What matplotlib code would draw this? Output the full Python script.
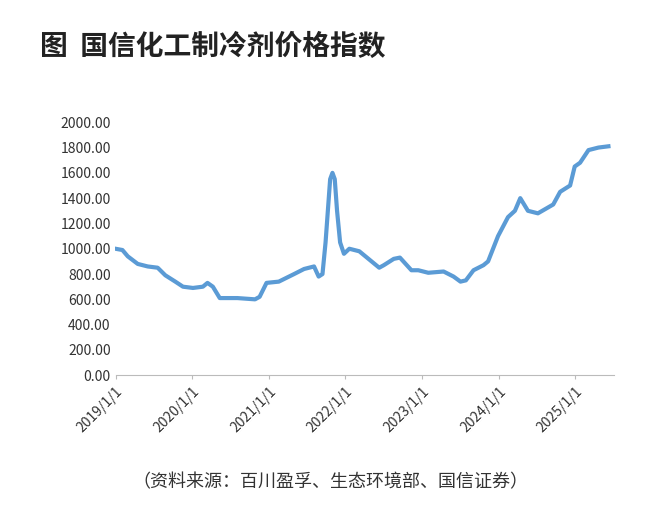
import matplotlib
matplotlib.use("Agg")
import matplotlib.pyplot as plt

plt.rcParams['font.family'] = ['Noto Sans CJK SC', 'DejaVu Sans']

years = [2019.00,2019.09,2019.16,2019.29,2019.42,2019.55,2019.65,2019.78,2019.88,2020.01,2020.14,2020.20,2020.27,2020.36,2020.59,2020.82,2020.88,2020.97,2021.13,2021.33,2021.46,2021.59,2021.65,2021.70,2021.74,2021.77,2021.80,2021.83,2021.86,2021.89,2021.93,2021.98,2022.05,2022.18,2022.34,2022.44,2022.50,2022.63,2022.71,2022.86,2022.95,2023.08,2023.28,2023.41,2023.50,2023.57,2023.67,2023.80,2023.86,2023.99,2024.12,2024.21,2024.28,2024.38,2024.51,2024.71,2024.80,2024.93,2024.99,2025.06,2025.17,2025.30,2025.43]
values = [1000,990,940,880,860,850,790,740,700,690,700,730,700,610,610,600,620,730,740,800,840,860,780,800,1050,1300,1550,1600,1550,1300,1050,960,1000,980,900,850,870,920,930,830,830,810,820,780,740,750,830,870,900,1100,1250,1300,1400,1300,1280,1350,1450,1500,1650,1680,1780,1800,1810]
tick_years = [2019,2020,2021,2022,2023,2024,2025]
tick_labels = ["2019/1/1","2020/1/1","2021/1/1","2022/1/1","2023/1/1","2024/1/1","2025/1/1"]
yticks = [0,200,400,600,800,1000,1200,1400,1600,1800,2000]

fig = plt.figure(figsize=(6.6,5.27), dpi=100)
ax = fig.add_axes([0.175, 0.288, 0.755, 0.48])
ax.plot(years, values, color='#5B9BD5', lw=3, solid_joinstyle='round')
ax.set_xlim(2019.0, 2025.5)
ax.set_ylim(0, 2000)
ax.set_yticks(yticks)
ax.set_yticklabels([f"{v:.2f}" for v in yticks], fontsize=10, color='#333333')
ax.set_xticks(tick_years)
ax.set_xticklabels(tick_labels, rotation=45, ha='right', rotation_mode='anchor', fontsize=10, color='#333333')
for s in ['top','right','left']:
    ax.spines[s].set_visible(False)
ax.spines['bottom'].set_color('#bbbbbb')
ax.tick_params(axis='y', length=0)
ax.tick_params(axis='x', length=3, color='#bbbbbb')
fig.text(0.06, 0.895, "图  国信化工制冷剂价格指数", fontsize=20, fontweight='bold', color='#222222')
fig.text(0.5, 0.075, "（资料来源：百川盈孚、生态环境部、国信证券）", fontsize=13, ha='center', color='#333333')
fig.savefig("out.png", dpi=100)
